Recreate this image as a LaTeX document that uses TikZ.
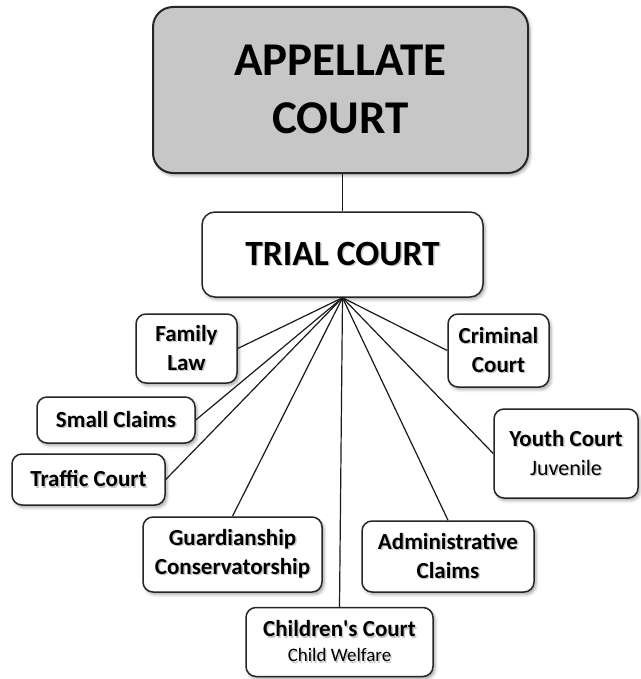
\documentclass[tikz,border=0pt]{standalone}
\usepackage{fontspec}
\setmainfont{Carlito}
\usetikzlibrary{shadows.blur}
\newcommand\shd[1]{\leavevmode\rlap{\kern1.4pt\raisebox{-1.4pt}{\textcolor{black!22}{#1}}}#1}
\newcommand\sq{\XeTeXglyph\XeTeXcharglyph"27\relax}
\begin{document}
\begin{tikzpicture}[x=1pt,y=-1pt,
  box/.style={draw=black!85, line width=1.5pt, rounded corners=10pt, fill=white,
    inner sep=0pt, align=center, font=\bfseries\fontsize{23}{29}\selectfont,
    blur shadow={shadow xshift=2pt, shadow yshift=-2.5pt, shadow blur radius=3pt, shadow opacity=35}},
  conn/.style={line width=1.2pt, draw=black!90}]
\useasboundingbox (0,0) rectangle (640,679);
\node[box, fill=black!22, line width=2pt, rounded corners=20pt, minimum width=375pt, minimum height=166pt,
  font=\bfseries\fontsize{47}{58}\selectfont] (app) at (340.5,90) {\shd{APPELLATE}\\\shd{COURT}};
\node[box, rounded corners=13pt, minimum width=281pt, minimum height=85pt,
  font=\bfseries\fontsize{35.5}{40}\selectfont] (trial) at (342.5,254.5) {\shd{TRIAL COURT}};
\node[box, minimum width=101pt, minimum height=69pt] (fam) at (186.5,348.5) {\shd{Family}\\\shd{Law}};
\node[box, minimum width=158pt, minimum height=46pt] (small) at (116,420) {\shd{Small Claims}};
\node[box, minimum width=153pt, minimum height=51pt] (traf) at (88.5,479.5) {\shd{Traffic Court}};
\node[box, minimum width=101pt, minimum height=73pt] (crim) at (498.5,350.5) {\shd{Criminal}\\\shd{Court}};
\node[box, minimum width=144pt, minimum height=89pt] (youth) at (566,453.5)
  {\shd{Youth Court}\\{\mdseries\fontsize{22}{29}\selectfont\shd{Juvenile}}};
\node[box, minimum width=179pt, minimum height=75pt] (guard) at (232.5,554.5) {\shd{Guardianship}\\\shd{Conservatorship}};
\node[box, minimum width=172pt, minimum height=71pt] (adm) at (448,556.5) {\shd{Administrative}\\\shd{Claims}};
\node[box, minimum width=187pt, minimum height=69pt, font=\bfseries\fontsize{23}{25}\selectfont] (child) at (339.5,642)
  {\shd{Children\sq s Court}\\{\mdseries\fontsize{19}{25}\selectfont\shd{Child Welfare}}};
\draw[conn] (app.south -| trial.north) -- (trial.north);
\foreach \t/\a in {fam/east, small/east, traf/east, guard/north, child/north, adm/north, youth/west, crim/west}
  \draw[conn] (trial.south) -- (\t.\a);
\end{tikzpicture}
\end{document}
